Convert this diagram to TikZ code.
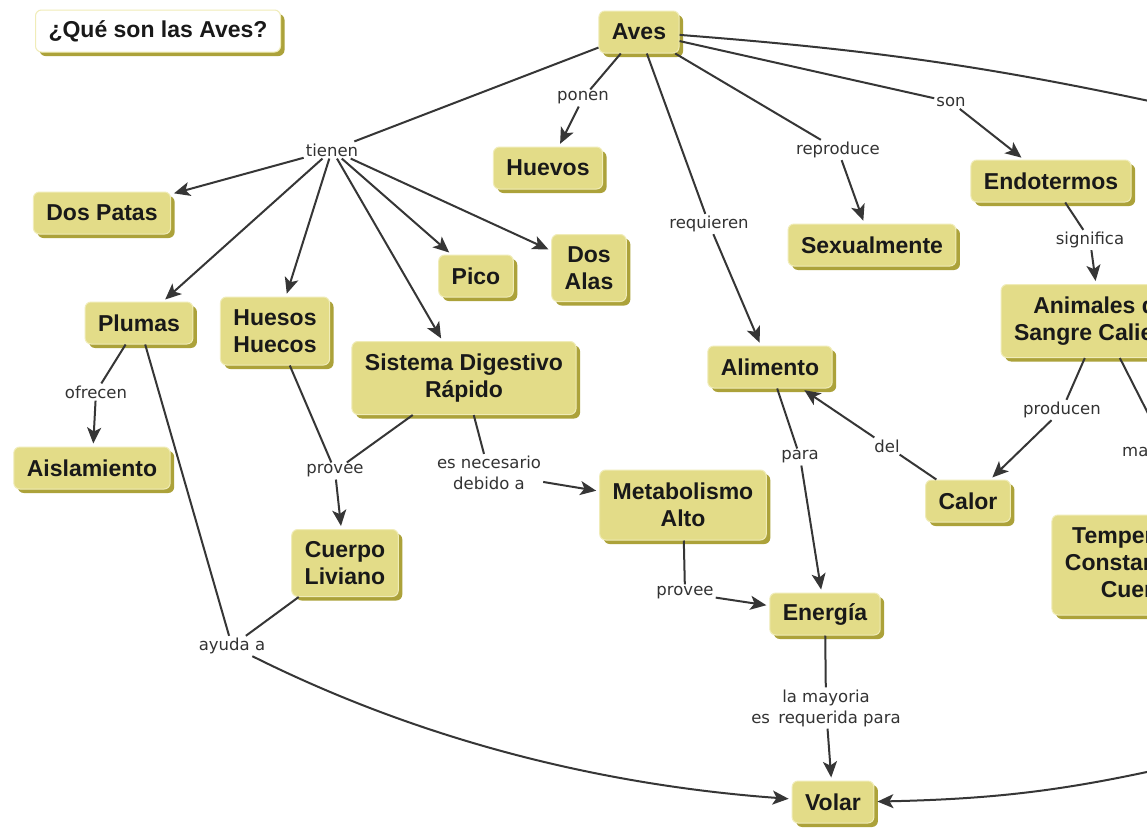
\documentclass[tikz,border=0pt]{standalone}
\usepackage{fontspec}
\setmainfont{Liberation Sans}
\newfontfamily\fraseletra{DejaVu Sans}
\usetikzlibrary{arrows.meta, shadows, positioning}
\definecolor{amarillo}{HTML}{E3DC88}
\definecolor{borde}{HTML}{F0ECB8}
\definecolor{sombra}{HTML}{ACA23A}
\definecolor{trazo}{HTML}{363636}
\tikzset{
  concepto/.style={draw=borde, line width=1pt, fill=amarillo, rounded corners=6pt,
    align=center, inner xsep=13pt, inner ysep=6pt, minimum height=42pt,
    font=\fontsize{23}{27}\selectfont\bfseries, text=black!90,
    drop shadow={shadow xshift=4pt, shadow yshift=-4pt, fill=sombra, opacity=1}},
  frase/.style={inner sep=2pt, align=center,
    font=\fraseletra\fontsize{16.5}{21}\selectfont, text=black!80},
  enlace/.style={draw=trazo, line width=2pt},
  flecha/.style={enlace, -{Stealth[length=16pt, width=14pt, inset=4pt]}, shorten >=3pt},
}
\begin{document}
\begin{tikzpicture}[x=1pt, y=-1pt]
    \useasboundingbox (0,0) rectangle (1147,828);
    \clip (0,0) rectangle (1147,828);
    \fill[white] (0,0) rectangle (1147,828);
    % conceptos
    \node[concepto, fill=white] (titulo) at (158,31) {¿Qué son las Aves?};
    \node[concepto] (aves) at (639,32) {Aves};
    \node[concepto] (huevos) at (548,168) {Huevos};
    \node[concepto] (dospatas) at (102,213) {Dos Patas};
    \node[concepto] (pico) at (476,276) {Pico};
    \node[concepto, minimum height=67pt] (dosalas) at (589,268) {Dos\\Alas};
    \node[concepto] (sexual) at (872,245) {Sexualmente};
    \node[concepto] (endo) at (1051,181) {Endotermos};
    \node[concepto, minimum height=73pt] (sangre) at (1101,321) {Animales de\\Sangre Caliente};
    \node[concepto] (plumas) at (139,323) {Plumas};
    \node[concepto, minimum height=68pt] (huesos) at (275,331) {Huesos\\Huecos};
    \node[concepto, minimum height=73pt] (digestivo) at (464,378) {Sistema Digestivo\\Rápido};
    \node[concepto] (alimento) at (770,367) {Alimento};
    \node[concepto] (aisla) at (92,468) {Aislamiento};
    \node[concepto, minimum height=70pt] (metab) at (683,505) {Metabolismo\\Alto};
    \node[concepto] (calor) at (968,501) {Calor};
    \node[concepto, minimum height=67pt] (cuerpo) at (345,563) {Cuerpo\\Liviano};
    \node[concepto] (energia) at (825,614) {Energía};
    \node[concepto, minimum height=100pt] (temp) at (1141,565) {Temperatura\\Constante del\\Cuerpo};
    \node[concepto] (volar) at (833,802) {Volar};
    % frases de enlace
    \node[frase] (ponen) at (583,98) {ponen};
    \node[frase] (tienen) at (332,150) {tienen};
    \node[frase] (requieren) at (709,224) {requieren};
    \node[frase] (reproduce) at (838,150) {reproduce};
    \node[frase] (son) at (951,102) {son};
    \node[frase] (significa) at (1090,240) {significa};
    \node[frase] (ofrecen) at (96,392) {ofrecen};
    \node[frase] (provee) at (335,471) {provee};
    \node[frase] (necesario) at (489,473) {es necesario\\debido a};
    \node[frase] (para) at (800,457) {para};
    \node[frase] (del) at (887,446) {del};
    \node[frase] (producen) at (1062,410) {producen};
    \node[frase, anchor=west] (mantienen) at (1120,450) {mantienen};
    \node[frase] (proveeE) at (685,593) {provee};
    \node[frase] (ayuda) at (232,646) {ayuda a};
    \node[frase] (mayoria) at (826,708) {la mayoria\\es\enspace requerida para};
    \coordinate (fueraA) at (1200,112);
    \coordinate (fueraV) at (1200,760);
    % conectores
    \draw[enlace] (aves) -- (ponen);
    \draw[flecha] (ponen) -- (huevos);
    \draw[enlace] (aves) -- (tienen);
    \foreach \destino in {dospatas, plumas, huesos, digestivo, pico, dosalas}
        \draw[flecha] (tienen) -- (\destino);
    \draw[enlace] (aves) -- (requieren);
    \draw[flecha] (requieren) -- (alimento);
    \draw[enlace] (aves) -- (reproduce);
    \draw[flecha] (reproduce) -- (sexual);
    \draw[enlace] (aves) -- (son);
    \draw[flecha] (son) -- (endo);
    \draw[enlace] (aves) to[bend left=4] (fueraA);
    \draw[enlace] (endo) -- (significa);
    \draw[flecha] (significa) -- (sangre);
    \draw[enlace] (sangre) -- (producen);
    \draw[flecha] (producen) -- (calor);
    \draw[enlace] (sangre) -- (mantienen);
    \draw[flecha] (mantienen) -- (temp);
    \draw[enlace] (plumas) -- (ofrecen);
    \draw[flecha] (ofrecen) -- (aisla);
    \draw[enlace] (plumas) -- (ayuda);
    \draw[enlace] (cuerpo) -- (ayuda);
    \draw[flecha] (ayuda) .. controls (420,740) and (600,785) .. (volar);
    \draw[enlace] (huesos) -- (provee);
    \draw[enlace] (digestivo) -- (provee);
    \draw[flecha] (provee) -- (cuerpo);
    \draw[enlace] (digestivo) -- (necesario);
    \draw[flecha] (necesario) -- (metab);
    \draw[enlace] (metab) -- (proveeE);
    \draw[flecha] (proveeE) -- (energia);
    \draw[enlace] (alimento) -- (para);
    \draw[flecha] (para) -- (energia);
    \draw[enlace] (calor) -- (del);
    \draw[flecha] (del) -- (alimento);
    \draw[enlace] (energia) -- (mayoria);
    \draw[flecha] (mayoria) -- (volar);
    \draw[flecha] (fueraV) to[bend left=6] (volar);
\end{tikzpicture}
\end{document}
